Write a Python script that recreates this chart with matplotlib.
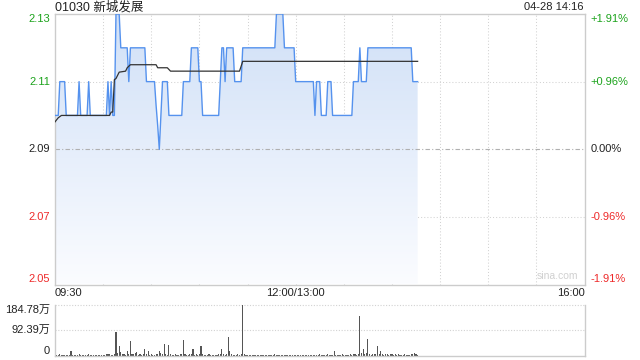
import matplotlib
matplotlib.use('Agg')
import matplotlib.pyplot as plt
import numpy as np
from matplotlib.colors import LinearSegmentedColormap
from matplotlib.patches import Polygon

plt.rcParams['font.family'] = ['Liberation Sans', 'Noto Sans CJK SC', 'DejaVu Sans']

# ---------------- data ----------------
title = '01030 新城发展'
stamp = '04-28 14:16'
prev_close = 2.09

# minute-by-minute price, from 09:30 (minute 0); minute 150 = 13:00
price = [
    2.10, 2.10, 2.10, 2.11, 2.11, 2.11, 2.11, 2.10, 2.10, 2.10,
    2.10, 2.10, 2.10, 2.10, 2.10, 2.11, 2.10, 2.10, 2.10, 2.10,
    2.10, 2.11, 2.10, 2.10, 2.10, 2.10, 2.10, 2.10, 2.10, 2.10,
    2.10, 2.10, 2.10, 2.11, 2.10, 2.11, 2.10, 2.10, 2.13, 2.13,
    2.13, 2.12, 2.12, 2.12, 2.12, 2.12, 2.11, 2.12, 2.12, 2.12,
    2.12, 2.12, 2.12, 2.12, 2.12, 2.12, 2.12, 2.11, 2.11, 2.11,
    2.11, 2.11, 2.11, 2.103, 2.097, 2.09, 2.10, 2.11, 2.11, 2.11,
    2.11, 2.10, 2.10, 2.10, 2.10, 2.10, 2.10, 2.10, 2.10, 2.10,
    2.11, 2.11, 2.11, 2.11, 2.11, 2.12, 2.12, 2.12, 2.12, 2.12,
    2.11, 2.11, 2.10, 2.10, 2.10, 2.10, 2.10, 2.10, 2.10, 2.10,
    2.10, 2.10, 2.10, 2.11, 2.12, 2.12, 2.11, 2.12, 2.12, 2.12,
    2.12, 2.12, 2.11, 2.11, 2.11, 2.11, 2.11, 2.12, 2.12, 2.12,
    2.12, 2.12, 2.12, 2.12, 2.12, 2.12, 2.12, 2.12, 2.12, 2.12,
    2.12, 2.12, 2.12, 2.12, 2.12, 2.12, 2.12, 2.12, 2.13, 2.13,
    2.13, 2.13, 2.13, 2.12, 2.12, 2.12, 2.12, 2.12, 2.12, 2.12,
    2.11, 2.11, 2.11, 2.11, 2.11, 2.11, 2.11, 2.11, 2.11, 2.11,
    2.11, 2.11, 2.10, 2.11, 2.11, 2.11, 2.10, 2.10, 2.10, 2.10,
    2.11, 2.11, 2.11, 2.10, 2.10, 2.10, 2.10, 2.10, 2.10, 2.10,
    2.10, 2.10, 2.10, 2.10, 2.10, 2.10, 2.11, 2.11, 2.11, 2.11,
    2.12, 2.11, 2.11, 2.11, 2.11, 2.12, 2.12, 2.12, 2.12, 2.12,
    2.12, 2.12, 2.12, 2.12, 2.12, 2.12, 2.12, 2.12, 2.12, 2.12,
    2.12, 2.12, 2.12, 2.12, 2.12, 2.12, 2.12, 2.12, 2.12, 2.12,
    2.12, 2.12, 2.12, 2.11, 2.11, 2.11, 2.11,
]

# average price line, breakpoints (minute, price)
avg_minutes = [0, 2, 4, 34, 35, 36, 37, 38, 40, 44, 45, 47, 63, 64, 70, 72, 115, 117, 226]
avg_values = [2.0981, 2.0993, 2.100, 2.100, 2.101, 2.101, 2.1106, 2.1109, 2.1128, 2.1131,
              2.1141, 2.1150, 2.1150, 2.1141, 2.1141, 2.1131, 2.1131, 2.1160, 2.1160]

# volume per minute (万)
volume = [
    6, 3, 2, 4, 2, 3, 2, 1, 3, 2,
    15, 2, 3, 1, 2, 4, 2, 1, 2, 3,
    2, 4, 1, 2, 3, 2, 1, 2, 3, 2,
    2, 3, 5, 4, 6, 3, 2, 5, 86, 8,
    33, 12, 4, 6, 3, 15, 5, 52, 6, 4,
    10, 12, 3, 5, 2, 4, 22, 6, 15, 3,
    4, 2, 3, 6, 5, 18, 8, 4, 43, 5,
    3, 37, 4, 2, 3, 5, 2, 3, 4, 6,
    55, 4, 3, 2, 5, 6, 25, 3, 4, 2,
    5, 33, 4, 2, 3, 2, 4, 3, 2, 3,
    2, 3, 4, 6, 22, 5, 3, 4, 68, 15,
    4, 3, 2, 3, 4, 3, 5, 184.78, 6, 3,
    2, 3, 2, 1, 2, 3, 2, 2, 1, 2,
    3, 2, 1, 2, 2, 3, 2, 4, 3, 2,
    2, 1, 3, 2, 2, 1, 2, 3, 2, 2,
    3, 2, 2, 1, 2, 3, 2, 2, 3, 2,
    2, 3, 2, 3, 2, 4, 2, 3, 2, 3,
    4, 3, 2, 2, 15, 3, 2, 3, 2, 4,
    3, 2, 3, 2, 4, 3, 5, 4, 3, 6,
    144, 10, 25, 4, 10, 62, 5, 3, 4, 6,
    4, 35, 5, 18, 4, 3, 6, 4, 3, 5,
    4, 3, 5, 2, 4, 3, 2, 3, 4, 3,
    2, 3, 4, 5, 8, 4, 3,
]

price_ticks = [2.13, 2.11, 2.09, 2.07, 2.05]
price_tick_labels = ['2.13', '2.11', '2.09', '2.07', '2.05']
pct_tick_labels = ['+1.91%', '+0.96%', '0.00%', '-0.96%', '-1.91%']
vol_ticks = [184.78, 92.39, 0]
vol_tick_labels = ['184.78万', '92.39万', '0']
time_ticks = [0, 150, 330]
time_labels = ['09:30', '12:00/13:00', '16:00']
session_minutes = 330

# ---------------- drawing ----------------
minutes = np.arange(len(price))
W, H = 640, 360
fig = plt.figure(figsize=(6.4, 3.6), dpi=100)
def fx(p): return p / W
def fy(p): return 1 - p / H

L, R, T, B = 55, 584.5, 14, 284.5
ax = fig.add_axes([fx(L), fy(B), fx(R) - fx(L), fy(T) - fy(B)])
vax = fig.add_axes([fx(L), fy(355.5), fx(R) - fx(L), fy(305) - fy(355.5)])

GREEN, RED, BLACK = '#1ca31c', '#ee2a2a', '#222222'
GRID = '#d2d2d2'
ymin, ymax = price_ticks[-1], price_ticks[0]

# gradient fill under price line
cmap = LinearSegmentedColormap.from_list('g', ['#fbfcff', '#d0e0f7'])
grad = np.linspace(0, 1, 256).reshape(-1, 1)
im = ax.imshow(grad, extent=[0, session_minutes, ymin, ymax], origin='lower',
               aspect='auto', cmap=cmap, zorder=1)
verts = [(minutes[0], ymin)] + list(zip(minutes, price)) + [(minutes[-1], ymin)]
poly = Polygon(verts, closed=True, facecolor='none', edgecolor='none')
ax.add_patch(poly)
im.set_clip_path(poly)

# grid
for m in range(30, session_minutes, 30):
    ax.axvline(m, color=GRID, lw=0.75, ls=(0, (1, 2)), zorder=0.5)
for v in [2.07, 2.11]:
    ax.axhline(v, color=GRID, lw=0.75, ls=(0, (1, 2)), zorder=0.5)
ax.axhline(prev_close, color='#b0b0b0', lw=0.8, ls=(0, (4, 2, 1, 2)), zorder=2)

ax.plot(minutes, price, color='#5592ee', lw=1.0, zorder=3)
ax.plot(avg_minutes, avg_values, color='#333333', lw=0.9, zorder=4)

ax.set_xlim(0, session_minutes)
ax.set_ylim(ymin, ymax)
ax.set_xticks([])
ax.set_yticks([])
for s in ax.spines.values():
    s.set_color('#cccccc')
    s.set_linewidth(1)

colors = [GREEN, GREEN, BLACK, RED, RED]
vas = ['top', 'center', 'center', 'center', 'bottom']
for v, lab, pl, c, va in zip(price_ticks, price_tick_labels, pct_tick_labels, colors, vas):
    ax.text(-0.009, v, lab, transform=ax.get_yaxis_transform(), ha='right', va=va,
            color=c, fontsize=8)
    ax.text(1.011, v, pl, transform=ax.get_yaxis_transform(), ha='left', va=va,
            color=c, fontsize=8)

has = ['left', 'center', 'right']
for t, lab, ha in zip(time_ticks, time_labels, has):
    ax.text(t, -0.012, lab, transform=ax.get_xaxis_transform(), ha=ha, va='top',
            color='#222222', fontsize=8)

fig.text(fx(55), fy(7.5), title, ha='left', va='center', fontsize=9, color='#222222')
fig.text(fx(584), fy(7.5), stamp, ha='right', va='center', fontsize=8, color='#222222')
ax.text(0.988, 0.012, 'sina.com', transform=ax.transAxes, ha='right', va='bottom',
        color='#d0d0d0', fontsize=7.5)

# volume panel
vax.bar(minutes, volume, width=0.7, color='#555555', linewidth=0)
vax.set_xlim(0, session_minutes)
vax.set_ylim(0, vol_ticks[0])
vax.set_xticks([])
vax.set_yticks([])
vax.spines['top'].set_visible(False)
for k in ['left', 'right', 'bottom']:
    vax.spines[k].set_color('#cccccc')
    vax.spines[k].set_linewidth(1)
for v in vol_ticks[:2]:
    vax.axhline(v, color=GRID, lw=0.8, ls=(0, (1, 1.5)), clip_on=False, zorder=0.5)
vvas = ['top', 'center', 'bottom']
for v, lab, va in zip(vol_ticks, vol_tick_labels, vvas):
    vax.text(-0.009, v, lab, transform=vax.get_yaxis_transform(), ha='right', va=va,
             color='#222222', fontsize=8)

fig.savefig('out.png', dpi=100)
